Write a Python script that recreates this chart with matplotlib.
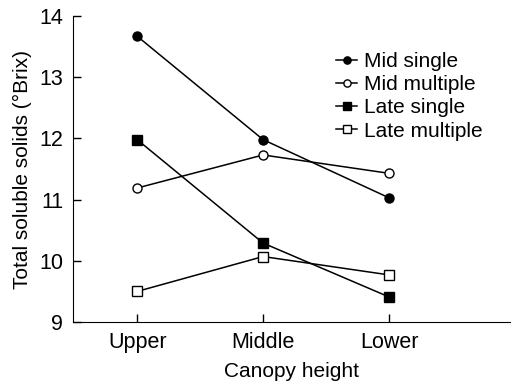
import matplotlib
matplotlib.use('Agg')
import matplotlib.pyplot as plt

plt.rcParams['font.family'] = ['Liberation Sans', 'DejaVu Sans']

heights = ['Upper', 'Middle', 'Lower']
mid_single = [13.67, 11.98, 11.03]
mid_multiple = [11.19, 11.73, 11.43]
late_single = [11.98, 10.29, 9.41]
late_multiple = [9.50, 10.07, 9.77]

x = list(range(len(heights)))

fig = plt.figure(figsize=(5.14, 3.82), dpi=100)
ax = fig.add_axes([0.142, 0.157, 0.85, 0.801])

kw = dict(color='black', lw=1.1, ms=6.5, mew=1.0)
ax.plot(x, mid_single, marker='o', mfc='black', label='Mid single', **kw)
ax.plot(x, mid_multiple, marker='o', mfc='white', label='Mid multiple', **kw)
ax.plot(x, late_single, marker='s', mfc='black', label='Late single', **kw)
ax.plot(x, late_multiple, marker='s', mfc='white', label='Late multiple', **kw)

ax.set_xlim(-0.51, 2.96)
ax.set_ylim(9, 14)
ax.set_xticks(x)
ax.set_xticklabels(heights)
ax.set_yticks([9, 10, 11, 12, 13, 14])
ax.spines['top'].set_visible(False)
ax.spines['right'].set_visible(False)
ax.tick_params(direction='in', length=6, width=1, labelsize=15.5, pad=7)
ax.set_xlabel('Canopy height', fontsize=15, labelpad=7)
ax.set_ylabel('Total soluble solids (°Brix)', fontsize=15, labelpad=5)

ax.legend(loc='upper left', bbox_to_anchor=(0.634, 0.891), bbox_transform=fig.transFigure,
          frameon=False, fontsize=15, handlelength=1.0, handletextpad=0.35,
          labelspacing=0.2, borderpad=0, markerscale=0.8)

fig.savefig('out.png', dpi=100)
